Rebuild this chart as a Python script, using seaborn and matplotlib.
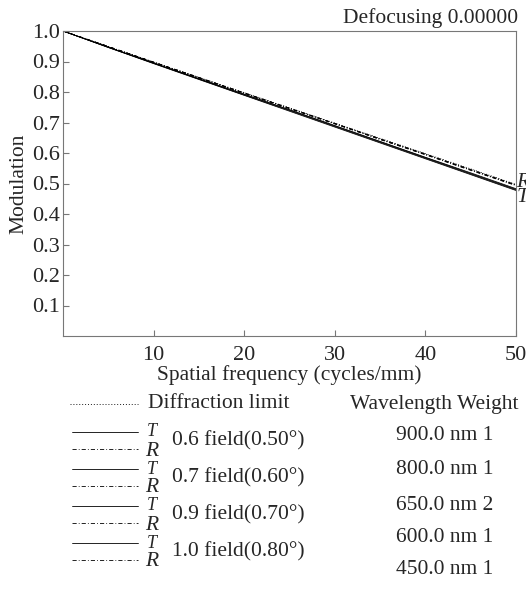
import matplotlib
matplotlib.use("Agg")
import matplotlib.pyplot as plt
import seaborn as sns
import pandas as pd
from matplotlib.lines import Line2D

sns.set_theme(style="white")
plt.rcParams['font.family'] = ['Liberation Serif', 'DejaVu Serif']
plt.rcParams['mathtext.fontset'] = 'custom'
plt.rcParams['mathtext.it'] = 'Liberation Serif:italic'
plt.rcParams['mathtext.rm'] = 'Liberation Serif'

# ---- data ----
freq = [0, 5, 10, 15, 20, 25, 30, 35, 40, 45, 50]
diffraction = [1.0, 0.949, 0.898, 0.848, 0.798, 0.748, 0.698, 0.648, 0.598, 0.548, 0.497]
f06_T = [1.0, 0.947, 0.895, 0.844, 0.793, 0.742, 0.690, 0.638, 0.586, 0.535, 0.483]
f06_R = [1.0, 0.949, 0.898, 0.848, 0.797, 0.747, 0.697, 0.647, 0.597, 0.546, 0.496]
f07_T = [1.0, 0.947, 0.895, 0.843, 0.792, 0.741, 0.689, 0.637, 0.585, 0.533, 0.481]
f07_R = [1.0, 0.949, 0.898, 0.847, 0.797, 0.747, 0.697, 0.646, 0.596, 0.545, 0.495]
f09_T = [1.0, 0.946, 0.894, 0.842, 0.790, 0.739, 0.687, 0.635, 0.583, 0.531, 0.479]
f09_R = [1.0, 0.949, 0.898, 0.847, 0.796, 0.746, 0.696, 0.645, 0.595, 0.544, 0.494]
f10_T = [1.0, 0.946, 0.893, 0.841, 0.789, 0.737, 0.685, 0.633, 0.581, 0.529, 0.477]
f10_R = [1.0, 0.949, 0.897, 0.846, 0.796, 0.745, 0.695, 0.644, 0.594, 0.543, 0.493]

field_labels = ["0.6 field(0.50°)", "0.7 field(0.60°)", "0.9 field(0.70°)", "1.0 field(0.80°)"]
wavelengths = ["900.0 nm 1", "800.0 nm 1", "650.0 nm 2", "600.0 nm 1", "450.0 nm 1"]
x_ticks = [10, 20, 30, 40, 50]
y_ticks = [0.1, 0.2, 0.3, 0.4, 0.5, 0.6, 0.7, 0.8, 0.9, 1.0]

DOT = (0, (1.2, 2.3))
DASHDOT = (0, (5, 2.5, 1, 2.5))

series = {
    "diffraction": (diffraction, DOT),
    "f06_T": (f06_T, "-"), "f06_R": (f06_R, DASHDOT),
    "f07_T": (f07_T, "-"), "f07_R": (f07_R, DASHDOT),
    "f09_T": (f09_T, "-"), "f09_R": (f09_R, DASHDOT),
    "f10_T": (f10_T, "-"), "f10_R": (f10_R, DASHDOT),
}

FS = 15.5

fig = plt.figure(figsize=(5.26, 5.89), dpi=100)
ax = fig.add_axes([63 / 526, 1 - 336 / 589, (516 - 63) / 526, (336 - 31) / 589])

for name, (vals, ls) in series.items():
    df = pd.DataFrame({"freq": freq, "mtf": vals})
    sns.lineplot(data=df, x="freq", y="mtf", ax=ax, color="black", lw=0.55,
                 linestyle=ls, legend=False)

ax.set_xlim(0, 50)
ax.set_ylim(0, 1.0)
ax.set_xticks(x_ticks)
ax.set_yticks(y_ticks)
ax.set_xticklabels([str(t) for t in x_ticks])
ax.set_yticklabels([f"{t:.1f}" for t in y_ticks])
ax.tick_params(direction="in", length=4, width=0.8, color="#777777",
               labelsize=16, bottom=True, left=True)
ax.tick_params(axis="x", pad=7)
ax.tick_params(axis="y", pad=2)
for s in ax.spines.values():
    s.set_color("#777777")
    s.set_linewidth(0.8)
ax.set_xlabel("Spatial frequency (cycles/mm)", fontsize=FS, labelpad=0)
ax.set_ylabel("Modulation", fontsize=FS, labelpad=3)

# end labels
ax.text(50.05, f06_R[-1] + 0.006, "$\\it{R}$", fontsize=FS, va="center", ha="left", clip_on=False)
ax.text(50.05, f10_T[-1] - 0.022, "$\\it{T}$", fontsize=FS, va="center", ha="left", clip_on=False)

fig.text(518 / 526, 1 - 18 / 589, "Defocusing 0.00000", fontsize=FS, ha="right", va="center")

# legend
def fy(y):
    return 1 - y / 589

def fx(x):
    return x / 526

fig.add_artist(Line2D([fx(70), fx(138)], [fy(404), fy(404)], color="black", lw=0.6,
                      linestyle=DOT))
fig.text(fx(148), fy(404), "Diffraction limit", fontsize=FS, va="center", ha="left")
fig.text(fx(518), fy(404), "Wavelength Weight", fontsize=FS, va="center", ha="right")

row_y = [441, 478, 515, 552]
for yy, lab in zip(row_y, field_labels):
    fig.add_artist(Line2D([fx(72), fx(138)], [fy(yy - 9), fy(yy - 9)], color="black", lw=0.6))
    fig.add_artist(Line2D([fx(72), fx(138)], [fy(yy + 8), fy(yy + 8)], color="black", lw=0.6,
                          linestyle=DASHDOT))
    fig.text(fx(146), fy(yy - 9), "$\\it{T}$", fontsize=13, va="center", ha="left")
    fig.text(fx(145), fy(yy + 10), "$\\it{R}$", fontsize=FS, va="center", ha="left")
    fig.text(fx(172), fy(yy), lab, fontsize=FS, va="center", ha="left")

wl_y = [436, 470, 505, 537, 570]
for yy, lab in zip(wl_y, wavelengths):
    fig.text(fx(445), fy(yy), lab, fontsize=FS, va="center", ha="center")

fig.savefig("out.png", dpi=100)
